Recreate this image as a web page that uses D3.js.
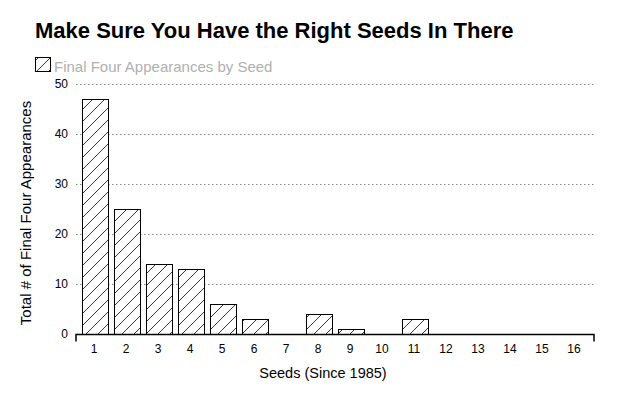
<!DOCTYPE html>
<html>
<head>
<meta charset="utf-8">
<script src="https://cdn.jsdelivr.net/npm/d3@7"></script>
<style>
  body { margin: 0; background: #fff; }
  text { font-family: "Liberation Sans", Arial, sans-serif; }
</style>
</head>
<body>
<script>
// Final Four appearances by seed (since 1985)
var seeds = ["1","2","3","4","5","6","7","8","9","10","11","12","13","14","15","16"];
var appearances = [47, 25, 14, 13, 6, 3, 0, 4, 1, 0, 3, 0, 0, 0, 0, 0];
var yTicks = [0, 10, 20, 30, 40, 50];

var width = 630, height = 400;
var plotLeft = 76, plotRight = 594, plotTop = 84, plotBottom = 334;

var svg = d3.select("body").append("svg")
    .attr("width", width)
    .attr("height", height);

// hatch pattern
var hs = 12;
var defs = svg.append("defs");
var pat = defs.append("pattern")
    .attr("id", "hatch")
    .attr("patternUnits", "userSpaceOnUse")
    .attr("width", hs)
    .attr("height", hs);
pat.append("rect").attr("width", hs).attr("height", hs).attr("fill", "#fff");
pat.append("path")
    .attr("d", "M-1,1 L1,-1 M0," + hs + " L" + hs + ",0 M" + (hs - 1) + "," + (hs + 1) + " L" + (hs + 1) + "," + (hs - 1))
    .attr("stroke", "#000")
    .attr("stroke-width", 0.8);

var x = d3.scaleBand()
    .domain(seeds)
    .range([79.5, 591.5])
    .paddingInner(0.18)
    .paddingOuter(0.09);

var y = d3.scaleLinear()
    .domain([0, 50])
    .range([plotBottom, plotTop]);

var data = seeds.map((s, i) => ({ seed: s, value: appearances[i] }));

// title
svg.append("text")
    .attr("x", 35)
    .attr("y", 38)
    .attr("font-size", 22)
    .attr("font-weight", "bold")
    .text("Make Sure You Have the Right Seeds In There");

// legend
svg.append("rect")
    .attr("x", 35.5).attr("y", 57.5)
    .attr("width", 15).attr("height", 14)
    .attr("fill", "url(#hatch)")
    .attr("stroke", "#000");
svg.append("text")
    .attr("x", 54)
    .attr("y", 72)
    .attr("font-size", 15)
    .attr("fill", "#b0b0b0")
    .text("Final Four Appearances by Seed");

// grid lines
svg.append("g")
    .selectAll("line")
    .data(yTicks.filter(d => d > 0))
    .join("line")
    .attr("x1", plotLeft)
    .attr("x2", plotRight)
    .attr("y1", d => Math.round(y(d)) + 0.5)
    .attr("y2", d => Math.round(y(d)) + 0.5)
    .attr("stroke", "#888")
    .attr("stroke-width", 1.2)
    .attr("stroke-dasharray", "1.5,2.5");

// y tick labels
svg.append("g")
    .selectAll("text")
    .data(yTicks)
    .join("text")
    .attr("x", 68)
    .attr("y", d => y(d) + 4)
    .attr("text-anchor", "end")
    .attr("font-size", 12)
    .text(d => d);

// bars
svg.append("g")
    .selectAll("rect")
    .data(data.filter(d => d.value > 0))
    .join("rect")
    .attr("x", d => Math.round(x(d.seed)) + 0.5)
    .attr("y", d => Math.round(y(d.value)) + 0.5)
    .attr("width", Math.round(x.bandwidth()))
    .attr("height", d => y(0) - Math.round(y(d.value)))
    .attr("fill", "url(#hatch)")
    .attr("stroke", "#000")
    .attr("stroke-width", 1);

// x axis
var xAxis = d3.axisBottom(x).tickSize(0).tickPadding(10);
var gx = svg.append("g")
    .attr("transform", "translate(-1.5," + (y(0) + 0.5) + ")")
    .call(xAxis);
gx.select(".domain")
    .attr("d", "M" + (plotLeft + 1.5) + ",7V0H" + (plotRight + 1.5) + "V7")
    .attr("stroke", "#000")
    .attr("stroke-width", 1.5);
gx.selectAll("text")
    .attr("font-size", 12)
    .attr("font-family", "Liberation Sans, Arial, sans-serif");

// axis labels
svg.append("text")
    .attr("x", 323)
    .attr("y", 378)
    .attr("text-anchor", "middle")
    .attr("font-size", 14.5)
    .text("Seeds (Since 1985)");

svg.append("text")
    .attr("transform", "translate(31,213) rotate(-90)")
    .attr("text-anchor", "middle")
    .attr("font-size", 15)
    .text("Total # of Final Four Appearances");
</script>
</body>
</html>
